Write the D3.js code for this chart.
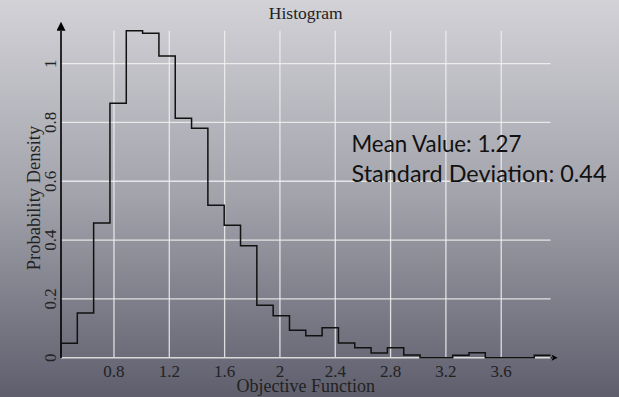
<!DOCTYPE html>
<html>
<head>
<meta charset="utf-8">
<script src="https://d3js.org/d3.v7.min.js"></script>
<style>
  body { margin: 0; padding: 0; overflow: hidden; }
  svg { display: block; }
</style>
</head>
<body>
<div id="chart"></div>
<script>
// bin edges (objective function) and density per bin
var binEdges = [0.417, 0.535, 0.653, 0.771, 0.889, 1.007, 1.125, 1.243, 1.361, 1.479,
                1.597, 1.715, 1.833, 1.951, 2.069, 2.187, 2.305, 2.423, 2.541, 2.659,
                2.777, 2.895, 3.013, 3.131, 3.249, 3.367, 3.485, 3.603, 3.721, 3.839, 3.957];
var density = [0.049, 0.152, 0.458, 0.865, 1.112, 1.103, 1.026, 0.814, 0.780, 0.518,
               0.450, 0.381, 0.178, 0.143, 0.093, 0.075, 0.102, 0.050, 0.034, 0.016,
               0.034, 0.009, 0.0, 0.0, 0.008, 0.017, 0.0, 0.0, 0.0, 0.008];
var xTicks = [0.8, 1.2, 1.6, 2.0, 2.4, 2.8, 3.2, 3.6];
var yTicks = [0, 0.2, 0.4, 0.6, 0.8, 1.0];
var statLines = ["Mean Value: 1.27", "Standard Deviation: 0.44"];

var W = 619, H = 397;
var plotL = 61, plotR = 550.6, plotT = 30.7, plotB = 357.7;

var svg = d3.select("#chart").append("svg")
  .attr("width", W).attr("height", H);

var defs = svg.append("defs");
var grad = defs.append("linearGradient").attr("id", "bg")
  .attr("x1", 0).attr("y1", 0).attr("x2", 0).attr("y2", 1);
grad.append("stop").attr("offset", "0%").attr("stop-color", "#d2d2d7");
grad.append("stop").attr("offset", "50%").attr("stop-color", "#a2a2ab");
grad.append("stop").attr("offset", "100%").attr("stop-color", "#5e5e6d");

var arrowY = defs.append("marker").attr("id", "arrY")
  .attr("viewBox", "0 0 10 10").attr("refX", 0).attr("refY", 5)
  .attr("markerWidth", 10).attr("markerHeight", 9).attr("markerUnits", "userSpaceOnUse")
  .attr("orient", "auto");
arrowY.append("path").attr("d", "M0,0 L10,5 L0,10 Z").attr("fill", "#000");

var arrowX = defs.append("marker").attr("id", "arrX")
  .attr("viewBox", "0 0 10 10").attr("refX", 0).attr("refY", 5)
  .attr("markerWidth", 14).attr("markerHeight", 6).attr("markerUnits", "userSpaceOnUse")
  .attr("orient", "auto");
arrowX.append("path").attr("d", "M0,0 L10,5 L0,10 L2,5 Z").attr("fill", "#000");

svg.append("rect").attr("width", W).attr("height", H).attr("fill", "url(#bg)");

var x = d3.scaleLinear()
  .domain([binEdges[0], binEdges[binEdges.length - 1]])
  .range([plotL, plotR]);
var y = d3.scaleLinear()
  .domain([0, d3.max(density)])
  .range([plotB, plotT]);

var serif = "'Liberation Serif', 'Times New Roman', serif";

// grid
svg.append("g").selectAll("line").data(xTicks).enter().append("line")
  .attr("x1", d => x(d)).attr("x2", d => x(d))
  .attr("y1", plotT).attr("y2", plotB)
  .attr("stroke", "#f2f2f2").attr("stroke-width", 1.3).attr("opacity", 0.85);
svg.append("g").selectAll("line").data(yTicks.filter(d => d > 0)).enter().append("line")
  .attr("x1", plotL).attr("x2", plotR)
  .attr("y1", d => y(d)).attr("y2", d => y(d))
  .attr("stroke", "#f2f2f2").attr("stroke-width", 1.3).attr("opacity", 0.85);

// x axis (light line + arrow)
svg.append("line")
  .attr("x1", plotL).attr("x2", plotR).attr("y1", plotB).attr("y2", plotB)
  .attr("stroke", "#d9d9d9").attr("stroke-width", 1.6);
svg.append("line")
  .attr("x1", plotR).attr("x2", plotR + 1).attr("y1", plotB).attr("y2", plotB)
  .attr("stroke", "#000").attr("stroke-width", 1.4)
  .attr("marker-end", "url(#arrX)");

// y axis (black line + arrow)
svg.append("line")
  .attr("x1", plotL).attr("x2", plotL).attr("y1", plotB).attr("y2", plotT)
  .attr("stroke", "#000").attr("stroke-width", 1.6)
  .attr("marker-end", "url(#arrY)");

// histogram outline
var pts = [[binEdges[0], 0]];
density.forEach(function(d, i) { pts.push([binEdges[i], d]); });
pts.push([binEdges[binEdges.length - 1], density[density.length - 1]]);
var line = d3.line().x(d => x(d[0])).y(d => y(d[1])).curve(d3.curveStepAfter);
svg.append("path").attr("d", line(pts))
  .attr("fill", "none").attr("stroke", "#111").attr("stroke-width", 1.5);

// tick labels
svg.append("g").selectAll("text").data(xTicks).enter().append("text")
  .attr("x", d => x(d)).attr("y", 376.7)
  .attr("text-anchor", "middle")
  .style("font-family", serif).style("font-size", "17px").attr("fill", "#222")
  .text(d => String(+d.toFixed(1)));

svg.append("g").selectAll("text").data(yTicks).enter().append("text")
  .attr("transform", d => "translate(56," + y(d) + ") rotate(-90)")
  .attr("text-anchor", "middle")
  .style("font-family", serif).style("font-size", "17px").attr("fill", "#222")
  .text(d => String(+d.toFixed(1)));

// titles
svg.append("text").attr("x", (plotL + plotR) / 2).attr("y", 19)
  .attr("text-anchor", "middle")
  .style("font-family", serif).style("font-size", "17.5px").attr("fill", "#222")
  .text("Histogram");
svg.append("text").attr("x", (plotL + plotR) / 2).attr("y", 391.5)
  .attr("text-anchor", "middle")
  .style("font-family", serif).style("font-size", "18px").attr("fill", "#222")
  .text("Objective Function");
svg.append("text")
  .attr("transform", "translate(39.5,198) rotate(-90)")
  .attr("text-anchor", "middle")
  .style("font-family", serif).style("font-size", "18.5px").attr("fill", "#222")
  .text("Probability Density");

// statistics note
var statLen = [170, 255];
svg.append("g").selectAll("text").data(statLines).enter().append("text")
  .attr("x", 351.5).attr("y", (d, i) => 152.3 + i * 29.7)
  .attr("textLength", (d, i) => statLen[i]).attr("lengthAdjust", "spacingAndGlyphs")
  .style("font-family", "Lato, 'Open Sans', sans-serif").style("font-size", "23.5px")
  .attr("fill", "#111")
  .text(d => d);
</script>
</body>
</html>
